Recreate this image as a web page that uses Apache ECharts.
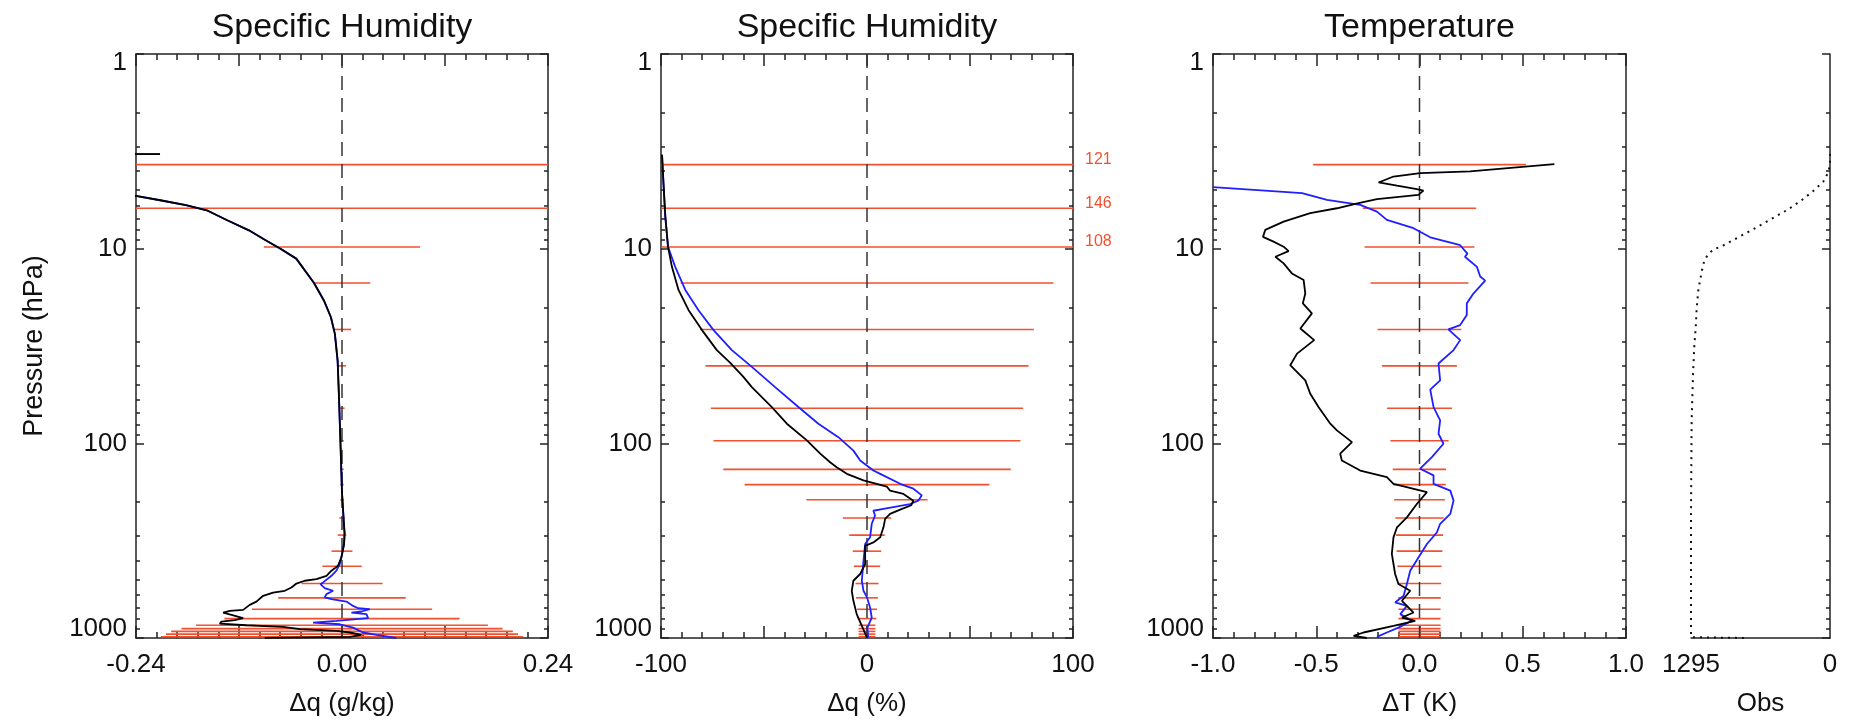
<!DOCTYPE html>
<html><head><meta charset="utf-8">
<script src="https://cdn.jsdelivr.net/npm/echarts@6/dist/echarts.min.js"></script>
<style>html,body{margin:0;padding:0;background:#fff}#c{width:1857px;height:721px}</style>
</head><body><div id="c"></div>
<script>
// ---------------- data ----------------
const titles = ['Specific Humidity', 'Specific Humidity', 'Temperature'];
const xNames = ['\u0394q (g/kg)', '\u0394q (%)', '\u0394T (K)', 'Obs'];
const yName = 'Pressure (hPa)';
const pMajor = [1, 10, 100, 1000];
const pMinor = [2,3,4,5,6,7,8,9,20,30,40,50,60,70,80,90,200,300,400,500,600,700,800,900];
const p1XLabels = [-0.24, 0, 0.24];
const p2XLabels = [-100, 0, 100];
const p3XLabels = [-1, -0.5, 0, 0.5, 1];
const p4XLabels = [1295, 0];
const zeroLine = [[0, 1], [0, 1000]];

// pressure levels (hPa) of the spread bars
const barLevels = [3.7, 6.2, 9.8, 15, 26, 40, 66, 97, 136, 163, 195, 242, 296, 358, 428, 525, 622, 712, 795, 860, 895, 925, 955, 985];
// half widths of the spread bars
const p1BarHalf = [0.30, 0.30, 0.091, 0.033, 0.0106, 0.0046, 0.003, 0.002, 0.002, 0.002, 0.002, 0.003, 0.005, 0.0122, 0.0229, 0.0472, 0.0743, 0.105, 0.137, 0.17, 0.187, 0.199, 0.205, 0.211];
const p2BarHalf = [121, 146, 108, 90.5, 81, 78.4, 75.8, 74.5, 69.8, 59.4, 29.4, 11.7, 8.6, 6.9, 6.4, 5.6, 5.3, 4.8, 4.5, 4.1, 4.1, 4.1, 4.1, 4.1];
const p3BarHalf = [0.515, 0.275, 0.266, 0.237, 0.203, 0.181, 0.157, 0.141, 0.129, 0.127, 0.123, 0.117, 0.114, 0.111, 0.107, 0.105, 0.103, 0.102, 0.102, 0.102, 0.102, 0.102, 0.102, 0.102];

// curves: [value, pressure]
const p1Black = [[-0.212,3.27],[-0.6,3.3],[-0.6,4.6],[-0.30,4.85],[-0.2402,5.36],[-0.2118,5.64],[-0.1819,5.98],[-0.1576,6.35],[-0.1337,7.15],[-0.1084,8.05],[-0.090,8.99],[-0.0717,10.0],[-0.0533,11.25],[-0.0326,15.0],[-0.0211,18.45],[-0.0129,22.5],[-0.0083,27.4],[-0.0051,37.6],[-0.0037,55],[-0.0018,99],[0.0,179],[0.002,250],[0.003,290],[0.0024,329],[-0.0007,385],[-0.0046,425],[-0.0123,451],[-0.0181,479],[-0.0298,498],[-0.0434,508],[-0.0531,525],[-0.0589,550],[-0.0667,572],[-0.0803,584],[-0.0919,607],[-0.0997,650],[-0.1075,676],[-0.1152,717],[-0.1307,726],[-0.1385,740],[-0.1288,760],[-0.1152,791],[-0.1249,810],[-0.1404,824],[-0.1424,844],[-0.1113,860],[-0.0687,877],[-0.0492,901],[-0.0065,919],[0.009,937],[0.0227,964],[0.009,987],[-0.09,998]];
const p1BlueLower = [[-0.0026,417],[-0.0065,451],[-0.0123,479],[-0.022,518],[-0.0251,529],[-0.0201,554],[-0.0104,572],[-0.0181,595],[-0.0201,619],[-0.0123,631],[0.0052,650],[0.0129,684],[0.0188,703],[0.0323,711],[0.0227,731],[0.011,740],[0.0285,754],[0.0304,791],[-0.0065,817],[-0.0337,833],[-0.0026,850],[0.0129,885],[0.0245,937],[0.0401,964],[0.0634,1000]];

const p2Black = [[-99.5,3.29],[-98.8,4.61],[-97.9,6.84],[-96.6,9.77],[-94.7,12.4],[-91.5,16.3],[-86.6,20.7],[-80.1,26.2],[-72.9,33.2],[-66.5,38.5],[-60,45.6],[-55.9,51.4],[-46.2,65.1],[-38.9,79.3],[-29.2,96.6],[-22.7,113],[-17.9,125],[-14.7,132.6],[-9.8,143.5],[-1.7,155],[9.6,166.7],[11.2,175],[17.7,182],[22.5,197],[21.5,208],[16.1,219],[11.2,230.5],[8.8,244.5],[8,270],[6.4,304],[3.1,323],[-0.9,336],[-0.9,417],[-3.3,469],[-6.6,508],[-7.4,572],[-6.6,644],[-5,754],[-2.5,867],[0,995]];
const p2BlueLower = [[-93.1,12.4],[-88.2,16.3],[-81.8,20.7],[-74.5,26.2],[-65.6,33.2],[-55.9,40.5],[-44.6,51.4],[-33.3,65.1],[-23.6,79.3],[-13.9,93],[-6.6,109],[-3.3,122.5],[3.1,138],[6.4,143.5],[16.1,161.4],[22.5,171],[26.6,185],[24.9,197],[20.9,205],[8,217],[3.1,222],[3.9,235],[2.3,259],[1.5,304],[-0.9,329],[-1.7,401],[-2.5,508],[-1.7,572],[0,619],[1.5,697],[2.3,785],[0.2,885],[0.6,995]];

const p3Black = [[0.653,3.68],[0.245,4.01],[0.003,4.09],[-0.126,4.26],[-0.198,4.57],[-0.109,4.75],[-0.013,4.94],[0.019,5.03],[-0.005,5.29],[-0.206,5.57],[-0.295,5.84],[-0.4,6.2],[-0.529,6.57],[-0.658,7.26],[-0.747,8.01],[-0.758,8.7],[-0.707,9.2],[-0.658,9.77],[-0.634,10.3],[-0.698,11.0],[-0.658,11.9],[-0.618,13.4],[-0.561,14.5],[-0.553,17],[-0.565,19.1],[-0.521,21.5],[-0.577,25.7],[-0.51,29.5],[-0.593,34.6],[-0.626,39.7],[-0.553,47.5],[-0.529,55.6],[-0.489,65.1],[-0.432,79.3],[-0.4,85.8],[-0.327,98.6],[-0.384,113],[-0.376,122.5],[-0.287,138],[-0.158,149],[-0.126,161.4],[0.036,178],[-0.013,205],[-0.061,240],[-0.109,270],[-0.126,304],[-0.134,370],[-0.118,469],[-0.102,528],[-0.045,572],[-0.085,644],[-0.029,740],[-0.085,785],[-0.021,816],[-0.126,867],[-0.271,937],[-0.319,976],[-0.255,1000]];
const p3Blue = [[-1.0,4.83],[-0.569,5.19],[-0.448,5.61],[-0.287,5.96],[-0.206,6.45],[-0.158,7.11],[-0.029,7.85],[0.052,8.74],[0.197,9.6],[0.232,10.6],[0.22,11],[0.278,12.4],[0.294,13.9],[0.318,14.6],[0.261,17],[0.229,19.1],[0.229,21.9],[0.197,24.7],[0.14,26],[0.197,29.5],[0.165,33.2],[0.092,38.9],[0.1,47.5],[0.052,53],[0.068,65.1],[0.1,76.2],[0.092,89.3],[0.116,100.5],[0.06,117.8],[0.003,135],[0.068,146],[0.068,161.4],[0.149,175],[0.165,197],[0.149,230.5],[0.1,259],[0.084,287],[0.036,329],[-0.005,386],[-0.045,451],[-0.061,528],[-0.077,607],[-0.118,657],[-0.061,684],[-0.093,754],[-0.037,816],[-0.102,885],[-0.158,937],[-0.206,986]];

// number of observations: [obs, pressure]
const p4Obs = [[0,3.25],[0,3.7],[16,4.05],[63,4.53],[157,5.06],[267,5.65],[393,6.3],[550,7.06],[707,7.9],[864,8.8],[990,9.6],[1084,10.1],[1138,10.7],[1172,11.6],[1194,13.0],[1226,16.2],[1242,20.2],[1251,25.3],[1264,31.6],[1276,44],[1289,77],[1295,233],[1295,990],[800,1000]];

const p1Blue = p1Black.filter(d => d[1] <= 385).concat(p1BlueLower);
const p2Blue = p2Black.filter(d => d[1] <= 9.77).concat(p2BlueLower);

// ---------------- styling ----------------
const RED = '#f2512f';
const INK = '#111';
const AXC = '#222';
const FONT = '"Liberation Sans", Arial, Helvetica, sans-serif';
const LW = 1.5;

const grids = [
  {left: 136, top: 54, width: 412, height: 584, outerBoundsMode: 'none'},
  {left: 661, top: 54, width: 412, height: 584, outerBoundsMode: 'none'},
  {left: 1213, top: 54, width: 413, height: 584, outerBoundsMode: 'none'},
  {left: 1691, top: 54, width: 139, height: 584, outerBoundsMode: 'none'}
];

const panels = [
  {min: -0.24, max: 0.24, interval: 0.12, labels: p1XLabels, fmt: v => v.toFixed(2), bars: p1BarHalf, black: p1Black, blue: p1Blue, over: false},
  {min: -100, max: 100, interval: 50, labels: p2XLabels, fmt: v => String(Math.round(v)), bars: p2BarHalf, black: p2Black, blue: p2Blue, over: true},
  {min: -1, max: 1, interval: 0.5, labels: p3XLabels, fmt: v => v.toFixed(1), bars: p3BarHalf, black: p3Black, blue: p3Blue, over: false}
];

const xAxes = [], yAxes = [], series = [];
const addX = o => (xAxes.push(o), xAxes.length - 1);
const addY = o => (yAxes.push(o), yAxes.length - 1);
const lineSt = {color: AXC, width: LW};
const txt = {fontSize: 26, color: INK, fontFamily: FONT};
const NAME_GAP = 53;

function xAxis(gi, pc, pos, withLabels, name) {
  return {
    type: 'value', gridIndex: gi, position: pos, min: pc.min, max: pc.max, interval: pc.interval,
    axisLine: {show: true, onZero: false, lineStyle: lineSt},
    axisTick: {show: true, inside: true, length: 12, lineStyle: lineSt},
    minorTick: {show: true, splitNumber: 5, length: 6, lineStyle: lineSt},
    splitLine: {show: false}, minorSplitLine: {show: false},
    axisLabel: withLabels ? Object.assign({show: true, margin: 14, customValues: pc.labels, formatter: pc.fmt, hideOverlap: false}, txt) : {show: false},
    name: name || '', nameLocation: 'middle', nameGap: NAME_GAP, nameTextStyle: txt
  };
}
function yMain(gi, pos, withLabels) {
  const rich = {
    t: Object.assign({padding: [18, 0, 0, 0]}, txt),
    b: Object.assign({padding: [0, 0, 18, 0]}, txt)
  };
  return {
    type: 'log', logBase: 10, gridIndex: gi, position: pos, min: 1, max: 1000, inverse: true,
    axisLine: {show: true, onZero: false, lineStyle: lineSt},
    axisTick: {show: true, inside: true, length: 8, customValues: pMajor, lineStyle: lineSt},
    splitLine: {show: false}, minorTick: {show: false},
    axisLabel: withLabels ? Object.assign({
      show: true, margin: 9, customValues: pMajor, rich: rich,
      formatter: v => { const r = Math.round(v); return r === 1 ? '{t|1}' : (r === 1000 ? '{b|1000}' : String(r)); }
    }, txt) : {show: false}
  };
}
function yMinor(gi, pos) {
  return {
    type: 'log', logBase: 10, gridIndex: gi, position: pos, min: 1, max: 1000, inverse: true,
    axisLine: {show: false, onZero: false},
    axisTick: {show: true, inside: true, length: 4, customValues: pMinor, lineStyle: lineSt},
    splitLine: {show: false}, minorTick: {show: false}, axisLabel: {show: false}
  };
}

panels.forEach((pc, gi) => {
  const xb = addX(xAxis(gi, pc, 'bottom', true, xNames[gi]));
  addX(xAxis(gi, pc, 'top', false));
  const yl = addY(yMain(gi, 'left', true));
  addY(yMinor(gi, 'left'));
  addY(yMain(gi, 'right', false));
  addY(yMinor(gi, 'right'));
  const xMax = pc.max, showOver = pc.over;
  series.push({
    type: 'custom', xAxisIndex: xb, yAxisIndex: yl, clip: false, silent: true, z: 1,
    data: barLevels.map((p, i) => [pc.bars[i], p]),
    renderItem: (params, api) => {
      const w = api.value(0), p = api.value(1);
      const a = api.coord([Math.max(-w, -xMax), p]);
      const b = api.coord([Math.min(w, xMax), p]);
      const ch = [{type: 'line', shape: {x1: a[0], y1: a[1], x2: b[0], y2: b[1]}, style: {stroke: RED, lineWidth: 1.6}}];
      if (showOver && w > xMax) {
        ch.push({type: 'text', x: b[0] + 12, y: b[1] - 5, style: {text: String(w), fill: RED, font: '16px ' + FONT, textAlign: 'left', textVerticalAlign: 'middle'}});
      }
      return {type: 'group', children: ch};
    }
  });
  series.push({type: 'line', xAxisIndex: xb, yAxisIndex: yl, data: zeroLine, symbol: 'none', silent: true, z: 2,
    lineStyle: {color: '#333', width: LW, type: [14, 8]}});
  series.push({type: 'line', xAxisIndex: xb, yAxisIndex: yl, data: pc.blue, symbol: 'none', silent: true, z: 3,
    lineStyle: {color: '#1f1fff', width: 1.8}});
  series.push({type: 'line', xAxisIndex: xb, yAxisIndex: yl, data: pc.black, symbol: 'none', silent: true, z: 4,
    lineStyle: {color: '#000', width: 1.8}});
});

// panel 4 : number of observations
const x4 = addX({
  type: 'value', gridIndex: 3, position: 'bottom', min: 0, max: 1295, interval: 1295, inverse: true,
  axisLine: {show: true, onZero: false, lineStyle: lineSt}, axisTick: {show: false}, splitLine: {show: false},
  axisLabel: Object.assign({show: true, margin: 14, customValues: p4XLabels, formatter: v => String(Math.round(v)), hideOverlap: false}, txt),
  name: xNames[3], nameLocation: 'middle', nameGap: NAME_GAP, nameTextStyle: txt
});
const y4 = addY(yMain(3, 'right', false));
addY(yMinor(3, 'right'));
series.push({type: 'line', xAxisIndex: x4, yAxisIndex: y4, data: p4Obs, symbol: 'none', silent: true,
  lineStyle: {color: '#111', width: 2, type: [2, 5]}});

const gText = [];
panels.forEach((pc, gi) => {
  const g = grids[gi];
  gText.push({type: 'text', x: g.left + g.width / 2, y: 28, silent: true,
    style: {text: titles[gi], font: '34px ' + FONT, fill: INK, textAlign: 'center', textVerticalAlign: 'middle'}});
});
gText.push({type: 'text', x: 35, y: grids[0].top + grids[0].height / 2, rotation: Math.PI / 2, silent: true,
  style: {text: yName, font: '27px ' + FONT, fill: INK, textAlign: 'center', textVerticalAlign: 'middle'}});

const chart = echarts.init(document.getElementById('c'), null, {renderer: 'canvas'});
chart.setOption({
  backgroundColor: '#fff',
  animation: false,
  grid: grids,
  xAxis: xAxes,
  yAxis: yAxes,
  series: series,
  graphic: gText
});
</script>
</body></html>
